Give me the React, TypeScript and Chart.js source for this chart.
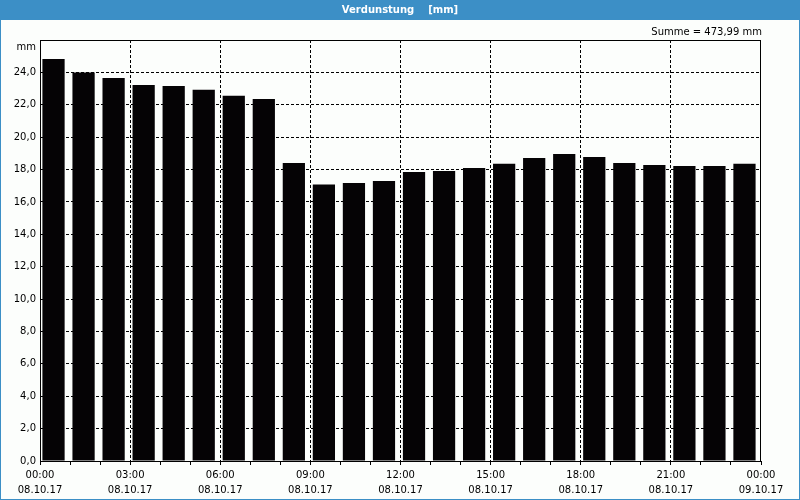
import React, { useEffect, useRef } from "react";
import { Chart, registerables } from "chart.js";

Chart.register(...registerables);

const TITLE = "Verdunstung    [mm]";
const SUM_TEXT = "Summe = 473,99 mm";
const UNIT = "mm";
const timeLabels = ["00:00", "03:00", "06:00", "09:00", "12:00", "15:00", "18:00", "21:00", "00:00"];
const dateLabels = ["08.10.17", "08.10.17", "08.10.17", "08.10.17", "08.10.17", "08.10.17", "08.10.17", "08.10.17", "09.10.17"];
const hourlyValues = [
  24.83, 24.0, 23.66, 23.22, 23.16, 22.92, 22.55, 22.36,
  18.41, 17.07, 17.17, 17.29, 17.85, 17.91, 18.1, 18.35,
  18.72, 18.96, 18.78, 18.41, 18.28, 18.22, 18.22, 18.35,
];

const FONT = "'DejaVu Sans', sans-serif";

export default function App() {
  const ref = useRef<HTMLCanvasElement>(null);
  useEffect(() => {
    document.body.style.margin = "0";
    const canvas = ref.current!;
    const framePlugin = {
      id: "frame",
      beforeDraw(chart: any) {
        const { ctx, width, height } = chart;
        ctx.save();
        ctx.fillStyle = "#fcfefc";
        ctx.fillRect(0, 0, width, height);
        ctx.fillStyle = "#3c8fc6";
        ctx.fillRect(0, 0, width, 20);
        ctx.strokeStyle = "#3c8fc6";
        ctx.lineWidth = 1;
        ctx.strokeRect(0.5, 0.5, width - 1, height - 1);
        ctx.fillStyle = "#ffffff";
        ctx.font = `bold 10px ${FONT}`;
        ctx.textAlign = "center";
        ctx.textBaseline = "middle";
        ctx.fillText(TITLE, width / 2, 10);
        ctx.fillStyle = "#000000";
        ctx.font = `10px ${FONT}`;
        ctx.textAlign = "right";
        ctx.fillText(SUM_TEXT, chart.chartArea.right + 1, 32);
        ctx.textAlign = "right";
        ctx.fillText(UNIT, chart.chartArea.left - 4, 47);
        ctx.restore();
      },
      afterDatasetsDraw(chart: any) {
        const { ctx, chartArea: a } = chart;
        ctx.save();
        ctx.strokeStyle = "#000000";
        ctx.lineWidth = 1;
        ctx.strokeRect(Math.round(a.left) + 0.5, Math.round(a.top) + 0.5, Math.round(a.right - a.left) - 1, Math.round(a.bottom - a.top));
        ctx.restore();
      },
    };
    const chart = new Chart(canvas, {
      type: "bar",
      data: {
        datasets: [
          {
            data: hourlyValues.map((v, i) => ({ x: i + 0.45, y: v })),
            backgroundColor: "#050305",
            borderWidth: 0,
            barPercentage: 0.74,
            categoryPercentage: 1,
          },
        ],
      },
      options: {
        animation: false,
        responsive: false,
        maintainAspectRatio: false,
        layout: { padding: { top: 40, right: 39, bottom: 0, left: 0 } },
        plugins: { legend: { display: false }, tooltip: { enabled: false }, title: { display: false } },
        scales: {
          x: {
            type: "linear",
            min: 0,
            max: 24,
            offset: false,
            afterFit: (s: any) => { s.height = 39; },
            afterBuildTicks: (s: any) => {
              s.ticks = Array.from({ length: 25 }, (_, i) => ({ value: i }));
            },
            ticks: {
              autoSkip: false,
              maxRotation: 0,
              minRotation: 0,
              padding: 3,
              color: "#000000",
              font: { family: FONT, size: 10, lineHeight: 1.5 },
              callback: (v: any) => {
                const n = Number(v);
                if (n % 3 !== 0) return "";
                const k = n / 3;
                return [timeLabels[k], dateLabels[k]];
              },
            },
            grid: {
              offset: false,
              color: (c: any) => {
                const v = c.tick ? c.tick.value : -1;
                return v % 3 === 0 && v > 0 && v < 24 ? "#000000" : "rgba(0,0,0,0)";
              },
              tickColor: "#000000",
              tickLength: 4,
              lineWidth: 1,
            },
            border: { display: true, color: "#000000", dash: [3, 2] },
          },
          y: {
            min: 0,
            max: 26,
            afterFit: (s: any) => { s.width = 40; },
            ticks: {
              stepSize: 2,
              padding: 4,
              color: "#000000",
              font: { family: FONT, size: 10 },
              callback: (v: any) => {
                const n = Number(v);
                if (n >= 26) return "";
                return n.toFixed(1).replace(".", ",");
              },
            },
            grid: {
              color: (c: any) => {
                const v = c.tick ? c.tick.value : -1;
                return v > 0 && v < 26 ? "#000000" : "rgba(0,0,0,0)";
              },
              drawTicks: false,
              lineWidth: 1,
            },
            border: { display: true, color: "#000000", dash: [3, 2] },
          },
        },
      },
      plugins: [framePlugin],
    });
    return () => chart.destroy();
  }, []);
  return (
    <div style={{ width: 800, height: 500 }}>
      <canvas ref={ref} width={800} height={500} style={{ display: "block" }} />
    </div>
  );
}
